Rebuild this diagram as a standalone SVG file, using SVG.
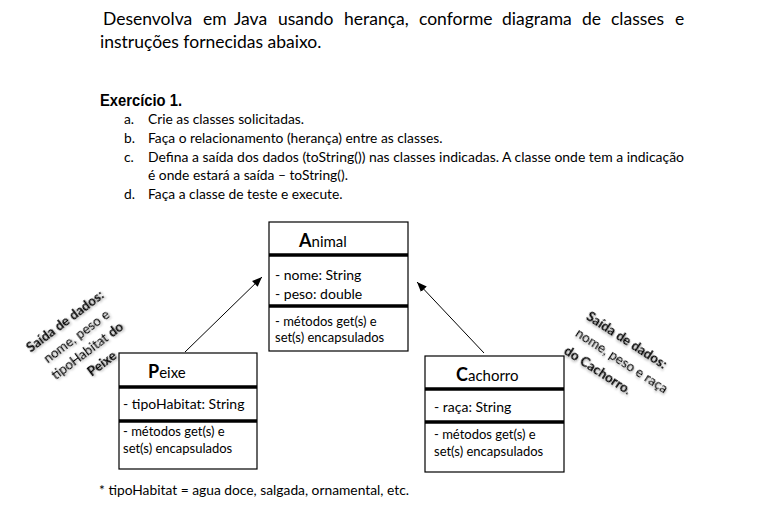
<svg xmlns="http://www.w3.org/2000/svg" width="761" height="507" viewBox="0 0 761 507">
<defs>
<style>
text{font-family:Lato,"Noto Sans",sans-serif;fill:#000}
.hd{font-size:17.5px}
.li{font-size:13.8px}
.box{fill:#fff;stroke:#000;stroke-width:1.2}
.sep{stroke:#000;stroke-width:3.5}
.attr{font-size:14px}
.meth{font-size:13px}
.big{font-size:18px;font-weight:bold}
.ttl{font-size:15px}
.lbl{font-size:13.5px}
.b{font-weight:bold}
.edge{stroke:#000;stroke-width:1;fill:none;marker-end:url(#ah)}
</style>
<marker id="ah" viewBox="0 0 10 10" refX="10" refY="5" markerWidth="10" markerHeight="10" markerUnits="userSpaceOnUse" orient="auto">
<path d="M0,1 L10,5 L0,9 Z" fill="#000"/>
</marker>
<filter id="sh" x="-20%" y="-50%" width="140%" height="200%">
<feDropShadow dx="1" dy="1.5" stdDeviation="1" flood-color="#000" flood-opacity="0.35"/>
</filter>
</defs>
<rect width="761" height="507" fill="#fff"/>

<g id="header">
<text class="hd" y="25"><tspan x="103">Desenvolva</tspan><tspan x="203">em</tspan><tspan x="234">Java</tspan><tspan x="278">usando</tspan><tspan x="344">herança,</tspan><tspan x="419">conforme</tspan><tspan x="502">diagrama</tspan><tspan x="582">de</tspan><tspan x="611">classes</tspan><tspan x="675">e</tspan></text>
<text class="hd" x="100" y="48">instruções fornecidas abaixo.</text>
<text x="100" y="106" style="font-family:'Liberation Sans',Arial,sans-serif;font-weight:bold;font-size:16px" textLength="82" lengthAdjust="spacingAndGlyphs">Exercício 1.</text>
<text class="li" x="124" y="124">a.</text><text class="li" x="148" y="124">Crie as classes solicitadas.</text>
<text class="li" x="124" y="143">b.</text><text class="li" x="148" y="143">Faça o relacionamento (herança) entre as classes.</text>
<text class="li" x="124" y="161.5">c.</text><text class="li" x="148" y="161.5" textLength="536" lengthAdjust="spacingAndGlyphs">Defina a saída dos dados (toString()) nas classes indicadas. A classe onde tem a indicação</text>
<text class="li" x="148" y="180">é onde estará a saída – toString().</text>
<text class="li" x="124" y="198.5">d.</text><text class="li" x="148" y="198.5">Faça a classe de teste e execute.</text>
</g>

<g id="connectors">
<line class="edge" x1="185" y1="352" x2="262" y2="277"/>
<line class="edge" x1="484" y1="353" x2="417" y2="282"/>
</g>

<g id="animal">
<rect class="box" x="269" y="222" width="139" height="129"/>
<line class="sep" x1="269" y1="255" x2="408" y2="255"/>
<line class="sep" x1="269" y1="306" x2="408" y2="306"/>
<text x="299" y="247"><tspan class="big">A</tspan><tspan class="ttl">nimal</tspan></text>
<text class="attr" x="275" y="280">- nome: String</text>
<text class="attr" x="275" y="299">- peso: double</text>
<text class="meth" x="275" y="326">- métodos get(s) e</text>
<text class="meth" x="275" y="342">set(s) encapsulados</text>
</g>

<g id="peixe">
<rect class="box" x="119" y="353" width="138" height="116"/>
<line class="sep" x1="119" y1="387" x2="257" y2="387"/>
<line class="sep" x1="119" y1="421" x2="257" y2="421"/>
<text x="148" y="378"><tspan class="big">P</tspan><tspan class="ttl">eixe</tspan></text>
<text class="attr" x="123" y="409">- tipoHabitat: String</text>
<text class="meth" x="123" y="436">- métodos get(s) e</text>
<text class="meth" x="123" y="453">set(s) encapsulados</text>
</g>

<g id="cachorro">
<rect class="box" x="425" y="356" width="139" height="116"/>
<line class="sep" x1="425" y1="389" x2="564" y2="389"/>
<line class="sep" x1="425" y1="422" x2="564" y2="422"/>
<text x="456" y="381"><tspan class="big">C</tspan><tspan class="ttl">achorro</tspan></text>
<text class="attr" x="434" y="412">- raça: String</text>
<text class="meth" x="434" y="439">- métodos get(s) e</text>
<text class="meth" x="434" y="456">set(s) encapsulados</text>
</g>

<g id="label-peixe" transform="translate(7,5) rotate(-37)" filter="url(#sh)">
<text class="lbl b" x="-144" y="292" text-anchor="middle">Saída de dados:</text>
<text class="lbl" x="-144" y="310.5" text-anchor="middle">nome, peso e</text>
<text class="lbl" x="-144" y="329" text-anchor="middle">tipoHabitat <tspan class="b">do</tspan></text>
<text class="lbl b" x="-140" y="347.5" text-anchor="middle">Peixe</text>
</g>

<g id="label-cachorro" transform="translate(-2,4) rotate(33)" filter="url(#sh)">
<text class="lbl b" x="664" y="-56">Saída de dados:</text>
<text class="lbl" x="664" y="-36">nome, peso e raça</text>
<text class="lbl" x="664" y="-15"><tspan class="b">do Cachorro</tspan>.</text>
</g>

<g id="footer">
<text class="li" x="99" y="495">* tipoHabitat = agua doce, salgada, ornamental, etc.</text>
</g>
</svg>
